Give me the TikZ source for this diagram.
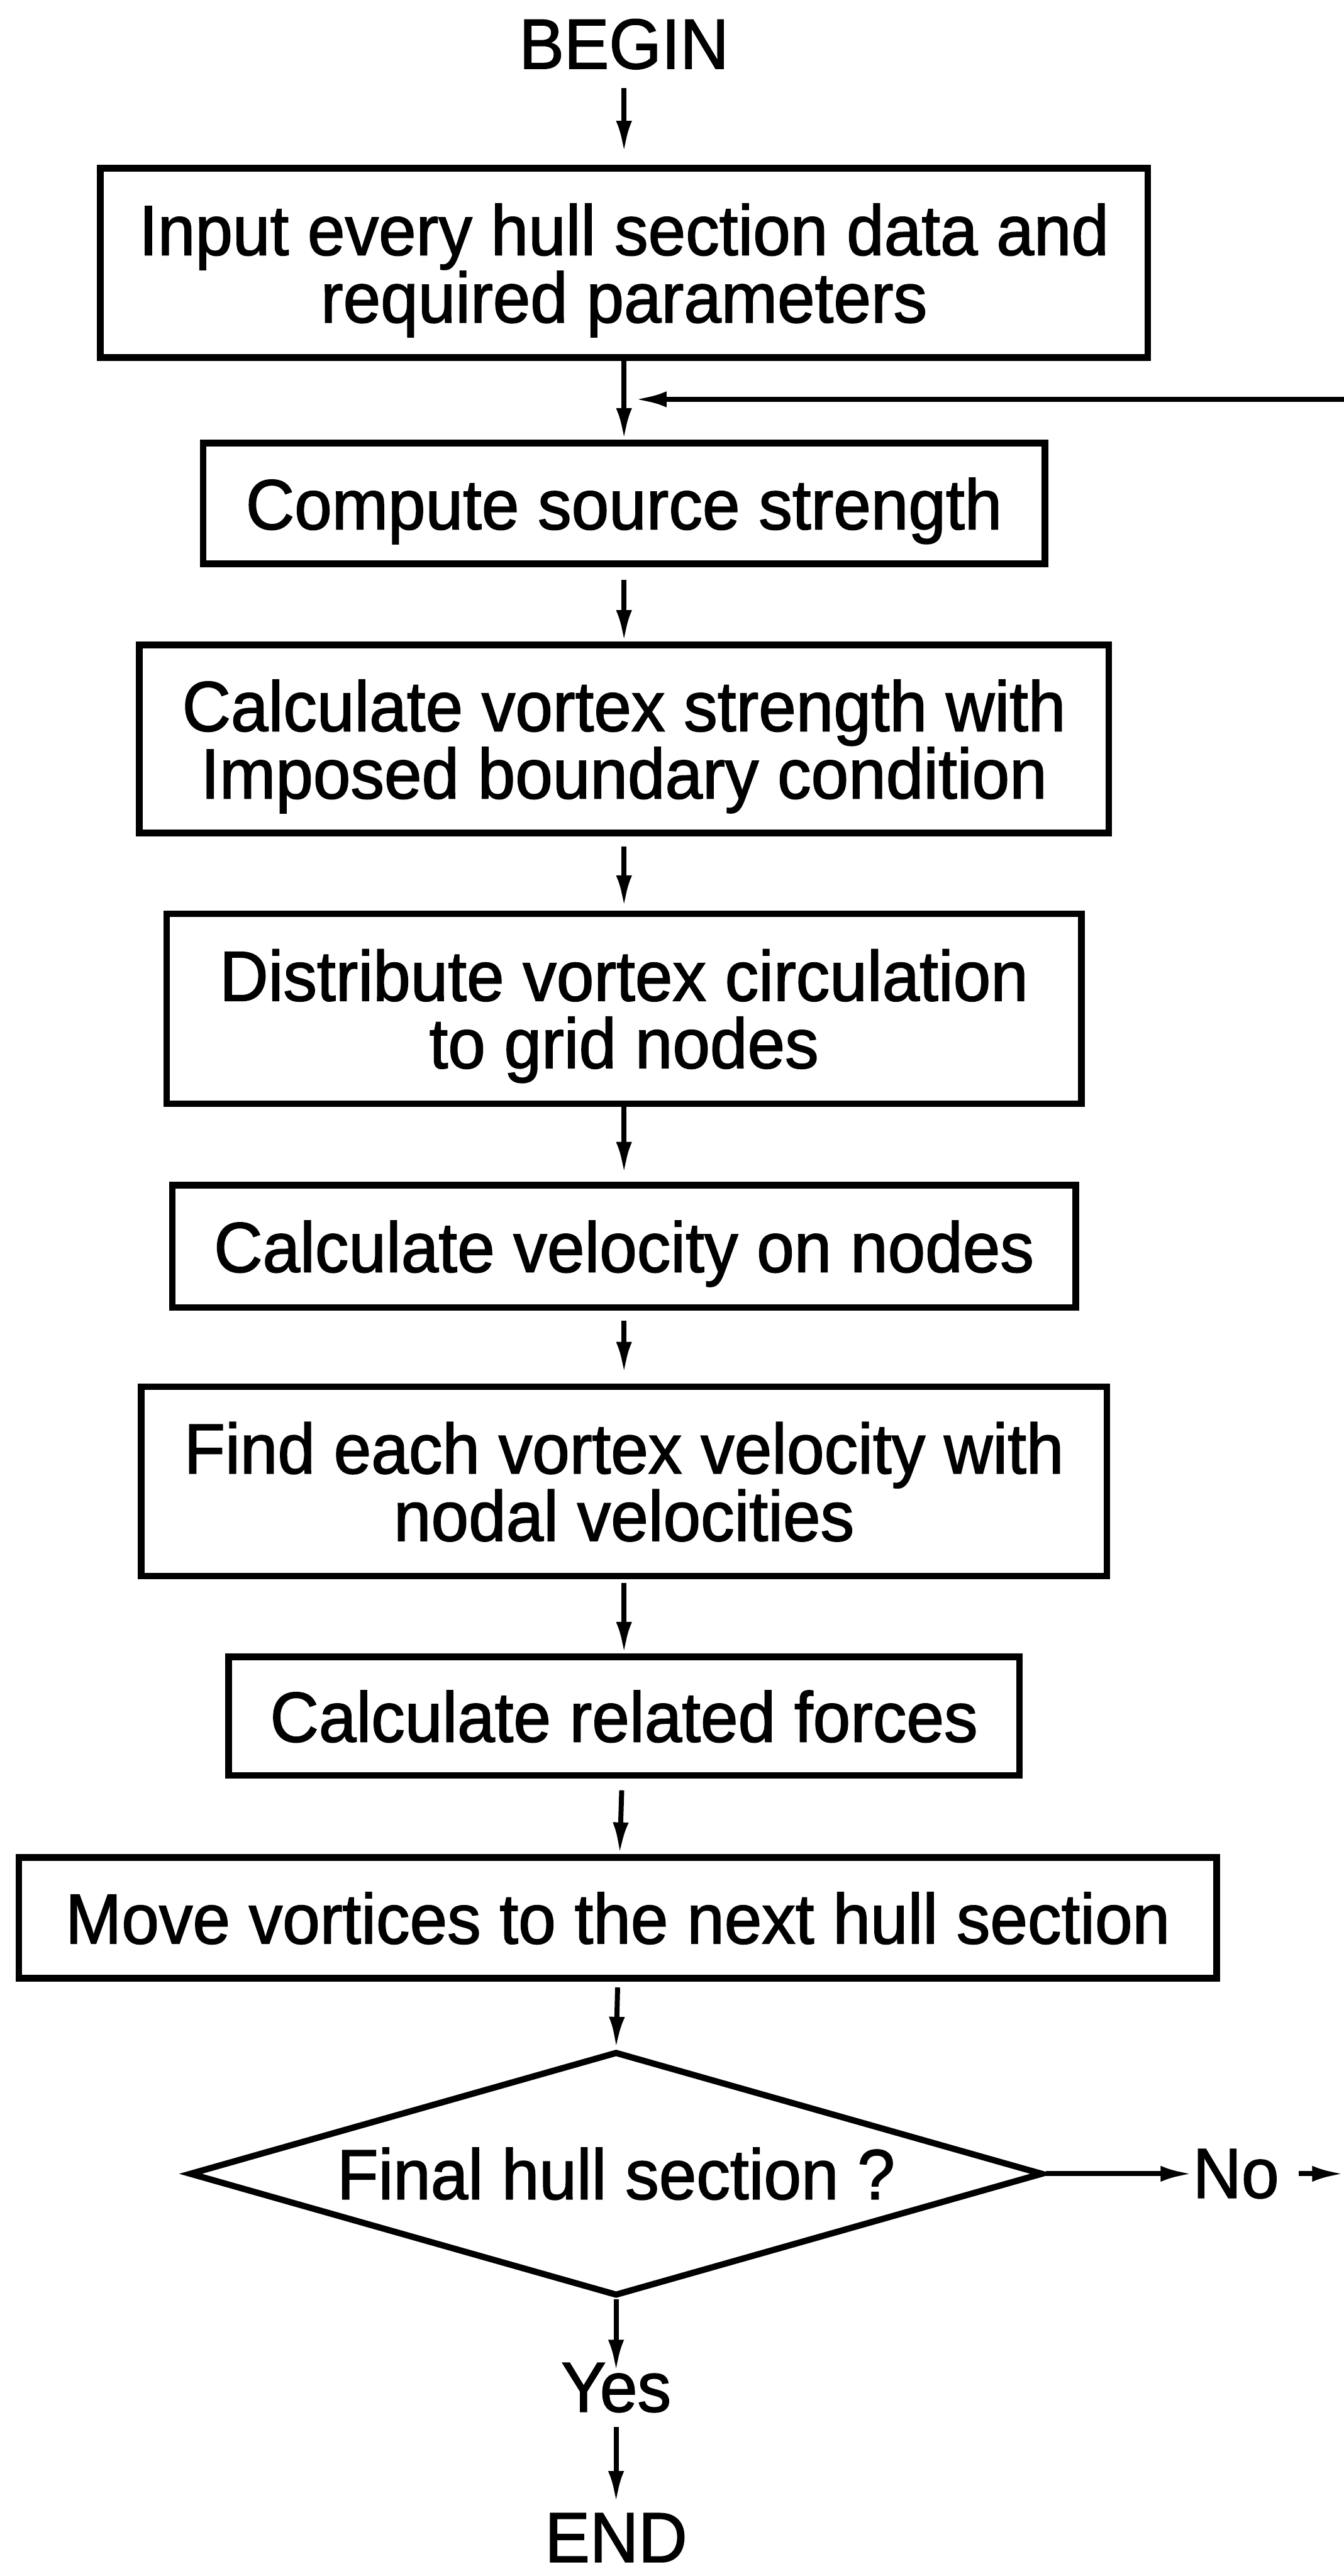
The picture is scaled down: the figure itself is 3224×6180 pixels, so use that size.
\documentclass[tikz,border=0pt]{standalone}
\usepackage{fontspec}
\setmainfont{Liberation Sans}[FakeStretch=0.95, FakeBold=1.5]
\usetikzlibrary{shapes.geometric,arrows.meta}

% one pixel of the scanned sheet
\newcommand{\px}{0.05mm}

\tikzset{
    stepbox/.style 2 args={draw, line width=0.8mm, align=center, inner sep=0pt,
        text depth=0pt, minimum width={#1*\px}, minimum height={#2*\px}},
    flow/.style={-{Latex[length=3.8mm,width=1.9mm]}, line width=0.6mm},
    word/.style={inner sep=0pt}
}

\begin{document}
\begin{tikzpicture}[x=0.05mm, y=-0.05mm, font=\fontsize{24.2}{23}\selectfont]

        % Sheet
        \useasboundingbox (0,0) rectangle (3224,6180);

        % Start
        \node[word] (begin) at (1497,106) {BEGIN};

        % Process boxes
        \node[stepbox={2513}{454}] (input) at (1497,631)
            {Input every hull section data and\\required parameters};
        \node[stepbox={2019}{290}] (compute) at (1497,1208)
            {Compute source strength};
        \node[stepbox={2326}{451}] (vortex) at (1497,1773)
            {Calculate vortex strength with\\Imposed boundary condition};
        \node[stepbox={2194}{456}] (distribute) at (1497,2420)
            {Distribute vortex circulation\\to grid nodes};
        \node[stepbox={2167}{293}] (velocity) at (1497,2990)
            {Calculate velocity on nodes};
        \node[stepbox={2317}{454}] (find) at (1497,3554)
            {Find each vortex velocity with\\nodal velocities};
        \node[stepbox={1898}{284}] (forces) at (1497,4117)
            {Calculate related forces};
        \node[stepbox={2873}{290}] (move) at (1482,4601)
            {Move vortices to the next hull section};

        % Decision
        \node[draw, diamond, shape aspect=3.4, line width=0.75mm, inner sep=0pt,
            minimum width={2048*\px}, minimum height={586*\px}] (final) at (1478,5215)
            {Final hull section ?};

        % Branch labels
        \node[word] (no) at (2965,5215) {No};
        \node[word] (yes) at (1478,5728) {Yes};
        \node[word] (stop) at (1478,6088) {END};

        % Loop ends at the sheet edge
        \coordinate (loopin) at (3224,958);
        \coordinate (loopout) at (3224,5215);

        % Main flow
        \draw[flow, shorten <=2.2mm, shorten >=1.5mm] (begin) -- (input);
        \draw[flow] (input) -- (compute);
        \draw[flow, shorten <=1.5mm] (compute) -- (vortex);
        \draw[flow, shorten <=1.2mm, shorten >=0.4mm] (vortex) -- (distribute);
        \draw[flow, shorten >=1mm] (distribute) -- (velocity);
        \draw[flow, shorten <=1.2mm, shorten >=1.2mm] (velocity) -- (find);
        \draw[flow, shorten <=0.4mm] (find) -- (forces);
        \draw[flow, shorten <=1.4mm] (forces) -- (move);
        \draw[flow, shorten <=0.7mm] (move.south) -- (final.north);

        % Yes branch
        \draw[flow, shorten >=-1.1mm] (final.south) -- (yes.north);
        \draw[flow, shorten <=1.7mm, shorten >=1.2mm] (yes) -- (stop);

        % No branch and return
        \draw[flow] (final.east) -- (no.west);
        \draw[flow, shorten <=2.3mm] (no.east) -- (loopout);
        \draw[flow, shorten >=1.3mm] (loopin) -- (loopin -| input.south);

\end{tikzpicture}
\end{document}
